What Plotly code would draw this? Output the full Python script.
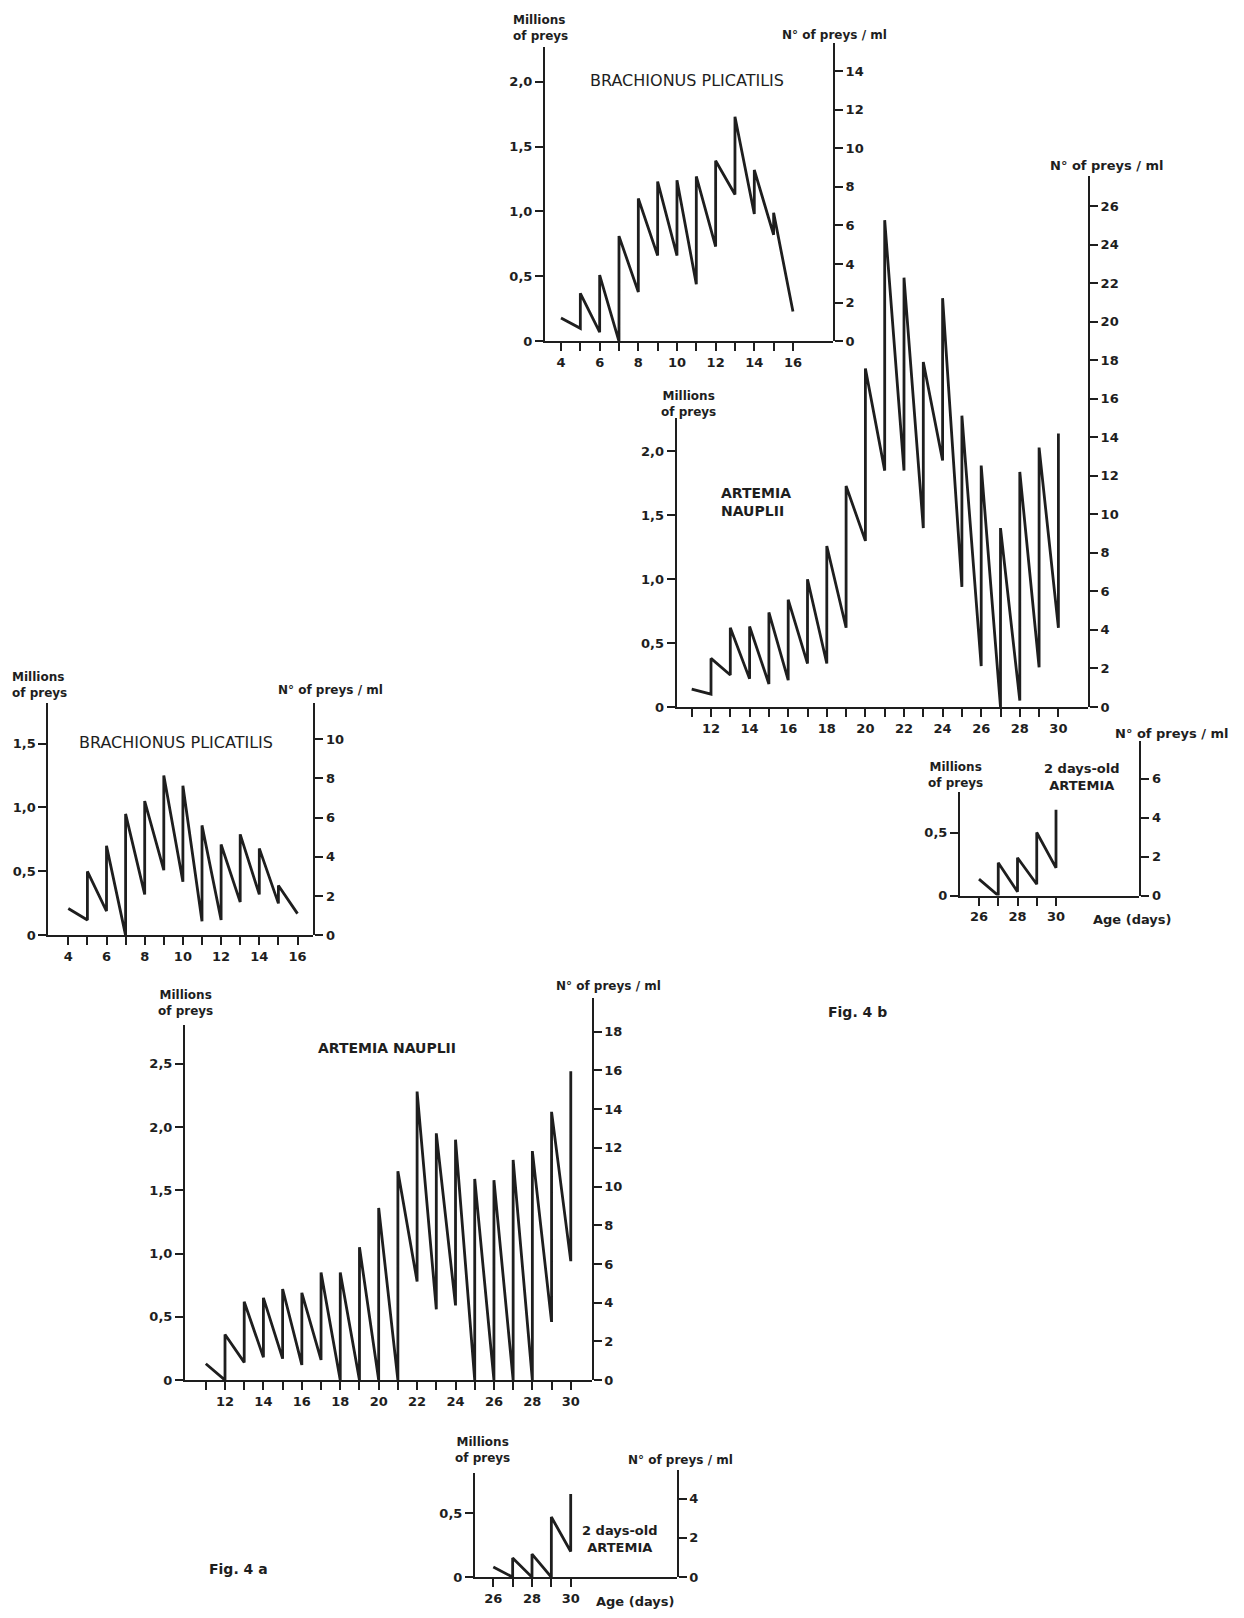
import plotly.graph_objects as go

W, H = 1244, 1618
FONT = "DejaVu Sans"
INK = "#1e1e1e"

# ---------------- data (millions of preys; day of life) ----------------
# value just before the daily addition ("before") and just after it ("after")
bp4b_days = [4, 5, 6, 7, 8, 9, 10, 11, 12, 13, 14, 15, 16]
bp4b_before = [None, 0.10, 0.07, 0.00, 0.38, 0.66, 0.66, 0.44, 0.73, 1.13, 0.98, 0.82, 0.23]
bp4b_after = [0.18, 0.37, 0.51, 0.81, 1.10, 1.23, 1.24, 1.27, 1.39, 1.73, 1.32, 0.99, None]

an4b_days = [11, 12, 13, 14, 15, 16, 17, 18, 19, 20, 21, 22, 23, 24, 25, 26, 27, 28, 29, 30]
an4b_before = [None, 0.10, 0.25, 0.22, 0.18, 0.21, 0.34, 0.34, 0.62, 1.30,
               1.85, 1.85, 1.40, 1.93, 0.94, 0.32, 0.00, 0.05, 0.31, 0.62]
an4b_after = [0.14, 0.38, 0.62, 0.63, 0.74, 0.84, 1.00, 1.26, 1.73, 2.65,
              3.81, 3.36, 2.70, 3.20, 2.28, 1.89, 1.40, 1.84, 2.03, 2.14]

a2d4b_days = [26, 27, 28, 29, 30]
a2d4b_before = [None, 0.00, 0.03, 0.09, 0.22]
a2d4b_after = [0.13, 0.26, 0.30, 0.50, 0.68]

bp4a_days = [4, 5, 6, 7, 8, 9, 10, 11, 12, 13, 14, 15, 16]
bp4a_before = [None, 0.12, 0.19, 0.00, 0.32, 0.51, 0.42, 0.11, 0.12, 0.26, 0.32, 0.25, 0.17]
bp4a_after = [0.21, 0.50, 0.70, 0.95, 1.05, 1.25, 1.17, 0.86, 0.71, 0.79, 0.68, 0.39, None]

an4a_days = [11, 12, 13, 14, 15, 16, 17, 18, 19, 20, 21, 22, 23, 24, 25, 26, 27, 28, 29, 30]
an4a_before = [None, 0.00, 0.14, 0.18, 0.17, 0.12, 0.16, 0.00, 0.00, 0.00,
               0.00, 0.78, 0.56, 0.59, 0.00, 0.00, 0.00, 0.00, 0.46, 0.94]
an4a_after = [0.13, 0.36, 0.62, 0.65, 0.72, 0.69, 0.85, 0.85, 1.05, 1.36,
              1.65, 2.28, 1.95, 1.90, 1.59, 1.58, 1.74, 1.81, 2.12, 2.44]

a2d4a_days = [26, 27, 28, 29, 30]
a2d4a_before = [None, 0.00, 0.00, 0.00, 0.20]
a2d4a_after = [0.08, 0.15, 0.18, 0.47, 0.65]

# ---------------- tick values / labels ----------------
mill_vals_15 = [0, 0.5, 1.0, 1.5]
mill_text_15 = ["0", "0,5", "1,0", "1,5"]
mill_vals_20 = [0, 0.5, 1.0, 1.5, 2.0]
mill_text_20 = ["0", "0,5", "1,0", "1,5", "2,0"]
mill_vals_25 = [0, 0.5, 1.0, 1.5, 2.0, 2.5]
mill_text_25 = ["0", "0,5", "1,0", "1,5", "2,0", "2,5"]
mill_vals_05 = [0, 0.5]
mill_text_05 = ["0", "0,5"]

ml_vals_14 = [0, 2, 4, 6, 8, 10, 12, 14]
ml_vals_26 = [0, 2, 4, 6, 8, 10, 12, 14, 16, 18, 20, 22, 24, 26]
ml_vals_6 = [0, 2, 4, 6]
ml_vals_10 = [0, 2, 4, 6, 8, 10]
ml_vals_18 = [0, 2, 4, 6, 8, 10, 12, 14, 16, 18]
ml_vals_4 = [0, 2, 4]

days_4_16 = list(range(4, 17))
days_4_16_text = [str(d) if d % 2 == 0 else "" for d in days_4_16]
days_11_30 = list(range(11, 31))
days_11_30_text = [str(d) if d % 2 == 0 else "" for d in days_11_30]
days_26_30 = list(range(26, 31))
days_26_30_text = [str(d) if d % 2 == 0 else "" for d in days_26_30]


def zigzag(days, before, after):
    xs, ys = [], []
    for d, b, a in zip(days, before, after):
        if b is not None:
            xs.append(d)
            ys.append(b)
        if a is not None:
            xs.append(d)
            ys.append(a)
    return xs, ys


# ---------------- panel geometry (pixels of the page) ----------------
panels = [
    dict(data=(bp4b_days, bp4b_before, bp4b_after), xL=545, xR=833, y0=343, topL=47, topR=43,
         sL=130.5, sR=19.4, dref=4, dpx=561, dstep=19.33,
         lv=mill_vals_20, lt=mill_text_20, rv=ml_vals_14, xv=days_4_16, xt=days_4_16_text),
    dict(data=(an4b_days, an4b_before, an4b_after), xL=676.7, xR=1088, y0=710.5, topL=420, topR=177,
         sL=128.4, sR=19.36, dref=12, dpx=711, dstep=19.3,
         lv=mill_vals_20, lt=mill_text_20, rv=ml_vals_26, xv=days_11_30, xt=days_11_30_text),
    dict(data=(a2d4b_days, a2d4b_before, a2d4b_after), xL=960, xR=1139.3, y0=900, topL=796, topR=745,
         sL=126.7, sR=19.6, dref=26, dpx=979, dstep=19.25,
         lv=mill_vals_05, lt=mill_text_05, rv=ml_vals_6, xv=days_26_30, xt=days_26_30_text),
    dict(data=(bp4a_days, bp4a_before, bp4a_after), xL=48.3, xR=313.3, y0=940, topL=706.7, topR=706.7,
         sL=128.5, sR=19.73, dref=4, dpx=68.3, dstep=19.1,
         lv=mill_vals_15, lt=mill_text_15, rv=ml_vals_10, xv=days_4_16, xt=days_4_16_text),
    dict(data=(an4a_days, an4a_before, an4a_after), xL=185, xR=591.7, y0=1387, topL=1030, topR=1003.3,
         sL=127.2, sR=19.46, dref=12, dpx=225, dstep=19.21,
         lv=mill_vals_25, lt=mill_text_25, rv=ml_vals_18, xv=days_11_30, xt=days_11_30_text),
    dict(data=(a2d4a_days, a2d4a_before, a2d4a_after), xL=475, xR=676.7, y0=1585, topL=1480, topR=1477.3,
         sL=128.7, sR=19.75, dref=26, dpx=493.3, dstep=19.35,
         lv=mill_vals_05, lt=mill_text_05, rv=ml_vals_4, xv=days_26_30, xt=days_26_30_text),
]


def axname(letter, n):
    return f"{letter}axis" if n == 1 else f"{letter}axis{n}"


def axref(letter, n):
    return letter if n == 1 else f"{letter}{n}"


tickfont = dict(family=FONT, size=13, color=INK, weight="bold")
common = dict(showgrid=False, zeroline=False, showline=True, linewidth=2, linecolor=INK,
              ticks="outside", ticklen=8, tickwidth=2, tickcolor=INK, tickfont=tickfont,
              fixedrange=True)

fig = go.Figure()
layout = {}
for i, p in enumerate(panels):
    xn = i + 1
    yl, yr, yd = 3 * i + 1, 3 * i + 2, 3 * i + 3
    x0 = p["dref"] - (p["dpx"] - p["xL"]) / p["dstep"]
    x1 = p["dref"] + (p["xR"] - p["dpx"]) / p["dstep"]
    layout[axname("x", xn)] = dict(
        domain=[p["xL"] / W, p["xR"] / W], range=[x0, x1], anchor=axref("y", yl),
        tickmode="array", tickvals=p["xv"], ticktext=p["xt"], **common)
    layout[axname("y", yl)] = dict(
        domain=[1 - p["y0"] / H, 1 - p["topL"] / H], range=[0, (p["y0"] - p["topL"]) / p["sL"]],
        anchor=axref("x", xn), side="left", tickmode="array", tickvals=p["lv"], ticktext=p["lt"], **common)
    layout[axname("y", yr)] = dict(
        domain=[1 - p["y0"] / H, 1 - p["topR"] / H], range=[0, (p["y0"] - p["topR"]) / p["sR"]],
        anchor=axref("x", xn), side="right", tickmode="array", tickvals=p["rv"],
        ticktext=[str(v) for v in p["rv"]], **common)
    layout[axname("y", yd)] = dict(
        domain=[1 - p["y0"] / H, 1 - p["topR"] / H], range=[0, (p["y0"] - p["topR"]) / p["sL"]],
        anchor=axref("x", xn), visible=False, fixedrange=True)
    # empty placeholder traces so that plotly creates the two scale axes of the panel
    for ya in (yl, yr):
        fig.add_trace(go.Scatter(x=[None], y=[None], xaxis=axref("x", xn), yaxis=axref("y", ya),
                                 mode="lines", showlegend=False, hoverinfo="skip"))
    xs, ys = zigzag(*p["data"])
    fig.add_trace(go.Scatter(x=xs, y=ys, xaxis=axref("x", xn), yaxis=axref("y", yd), mode="lines",
                             line=dict(color=INK, width=2.8), showlegend=False, hoverinfo="skip",
                             cliponaxis=False))

DY = 4  # visual centring of text boxes


def ann(text, px, py, size=12, bold=True, xanchor="center", align="center"):
    return dict(text=text, x=px / W, y=1 - (py + DY) / H, xref="paper", yref="paper", xanchor=xanchor,
                yanchor="middle", align=align, showarrow=False,
                font=dict(family=FONT, size=size, color=INK, weight="bold" if bold else "normal"))


annotations = [
    # Fig 4b - Brachionus
    ann("Millions<br>of preys", 511, 24, 12, xanchor="left", align="left"),
    ann("N° of preys / ml", 834, 31, 12),
    ann("BRACHIONUS PLICATILIS", 687, 77, 16, bold=False),
    # Fig 4b - Artemia nauplii
    ann("Millions<br>of preys", 688, 402, 12),
    ann("ARTEMIA<br>NAUPLII", 719, 500, 14, xanchor="left", align="left"),
    ann("N° of preys / ml", 1107, 162, 13),
    # Fig 4b - 2 days-old Artemia
    ann("Millions<br>of preys", 955, 775, 12),
    ann("2 days-old<br>ARTEMIA", 1082, 777, 13),
    ann("N° of preys / ml", 1172, 733, 13),
    ann("Age (days)", 1132, 920, 13),
    ann("Fig. 4 b", 857, 1013, 14),
    # Fig 4a - Brachionus
    ann("Millions<br>of preys", 10, 684, 12, xanchor="left", align="left"),
    ann("N° of preys / ml", 330, 689, 12),
    ann("BRACHIONUS PLICATILIS", 176, 742, 16, bold=False),
    # Fig 4a - Artemia nauplii
    ann("Millions<br>of preys", 185, 1004, 12),
    ann("ARTEMIA NAUPLII", 387, 1049, 14),
    ann("N° of preys / ml", 608, 987, 12),
    # Fig 4a - 2 days-old Artemia
    ann("Millions<br>of preys", 482, 1453, 12),
    ann("2 days-old<br>ARTEMIA", 620, 1543, 13),
    ann("N° of preys / ml", 680, 1463, 12),
    ann("Age (days)", 635, 1605, 13),
    ann("Fig. 4 a", 238, 1573, 14),
]

fig.update_layout(width=W, height=H, margin=dict(l=0, r=0, t=0, b=0, pad=0),
                  paper_bgcolor="white", plot_bgcolor="rgba(0,0,0,0)",
                  showlegend=False, annotations=annotations, **layout)

fig.write_html("out.html", config={"displayModeBar": False})
